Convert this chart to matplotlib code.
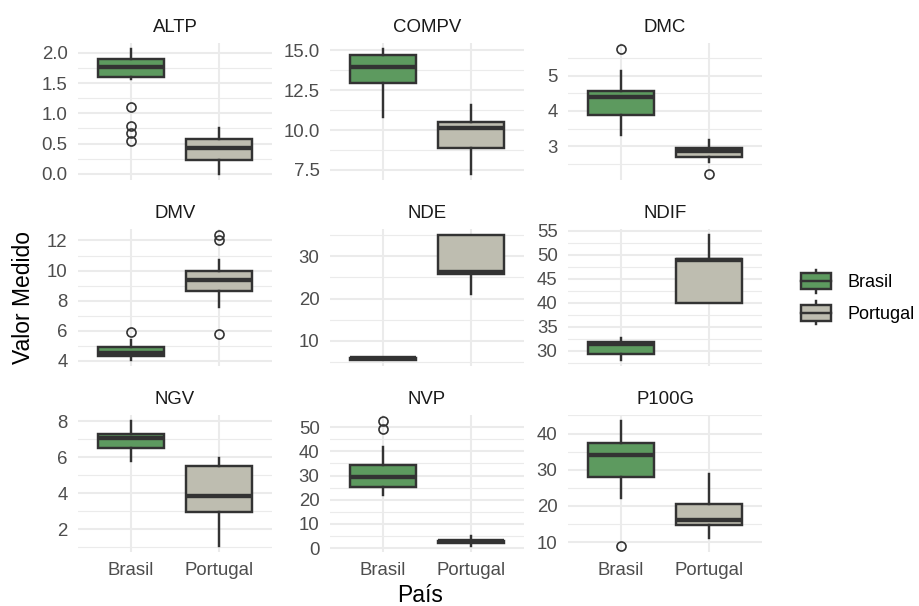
import numpy as np
import matplotlib
matplotlib.use('Agg')
from matplotlib import pyplot as plt
from matplotlib.patches import Patch, Rectangle
from matplotlib.lines import Line2D
from matplotlib.legend_handler import HandlerBase

plt.rcParams['font.family'] = ['Liberation Sans', 'DejaVu Sans']

# dados (estatisticas dos boxplots)
variaveis = ['ALTP', 'COMPV', 'DMC', 'DMV', 'NDE', 'NDIF', 'NGV', 'NVP', 'P100G']
paises = ['Brasil', 'Portugal']

brasil_whislo = [1.57, 10.83, 3.32, 4.07, 5.5, 28.1, 5.81, 22.0, 22.2]
brasil_q1 = [1.60, 12.94, 3.88, 4.33, 5.5, 29.4, 6.51, 25.3, 28.0]
brasil_med = [1.77, 13.99, 4.40, 4.55, 6.0, 31.3, 7.05, 29.4, 34.2]
brasil_q3 = [1.90, 14.71, 4.57, 4.91, 6.0, 31.9, 7.29, 34.4, 37.4]
brasil_whishi = [2.06, 15.08, 5.14, 5.40, 6.0, 32.7, 8.00, 41.9, 43.4]
brasil_fliers = [[1.11, 0.79, 0.68, 0.54], [], [5.75], [5.89], [], [], [], [52.4, 49.3], [9.0]]

portugal_whislo = [0.0, 7.25, 2.54, 7.60, 21.0, 40.0, 1.07, 1.0, 11.1]
portugal_q1 = [0.22, 8.85, 2.70, 8.62, 25.8, 40.0, 2.93, 2.0, 14.6]
portugal_med = [0.42, 10.15, 2.86, 9.35, 26.2, 48.9, 3.85, 3.0, 16.2]
portugal_q3 = [0.58, 10.51, 2.94, 10.0, 35.0, 49.2, 5.49, 3.0, 20.6]
portugal_whishi = [0.75, 11.57, 3.17, 10.67, 35.0, 54.1, 5.95, 5.0, 28.8]
portugal_fliers = [[], [], [2.22], [12.35, 12.0, 5.78], [], [], [], [], []]

y_breaks = [
    [0, 0.5, 1, 1.5, 2],
    [7.5, 10, 12.5, 15],
    [3, 4, 5],
    [4, 6, 8, 10, 12],
    [10, 20, 30],
    [30, 35, 40, 45, 50, 55],
    [2, 4, 6, 8],
    [0, 10, 20, 30, 40, 50],
    [10, 20, 30, 40],
]

cores = ['#5D9A5F', '#BEBDB0']
EDGE = '#333333'
GRID = '#EBEBEB'
LW = 1.75

W, H = 919, 606
col_left = [78, 330, 568]
row_top = [43, 229, 415]
pw, ph = 194, 137


class HandlerBox(HandlerBase):
    def create_artists(self, legend, orig_handle, xdescent, ydescent,
                       width, height, fontsize, trans):
        x0, y0 = -xdescent, -ydescent
        fc = orig_handle.get_facecolor()
        box = Rectangle((x0, y0 + 0.16 * height), width, 0.68 * height,
                        facecolor=fc, edgecolor=EDGE, lw=LW, transform=trans)
        med = Line2D([x0, x0 + width], [y0 + 0.5 * height] * 2,
                     color=EDGE, lw=LW, transform=trans)
        w1 = Line2D([x0 + width / 2] * 2, [y0, y0 + 0.16 * height],
                    color=EDGE, lw=LW, transform=trans)
        w2 = Line2D([x0 + width / 2] * 2, [y0 + 0.84 * height, y0 + height],
                    color=EDGE, lw=LW, transform=trans)
        return [w1, w2, box, med]


def fmt_ticks(ticks):
    d = 1 if any(t != int(t) for t in ticks) else 0
    return [f"{t:.{d}f}" for t in ticks]


def get_stats(i):
    b = dict(whislo=brasil_whislo[i], q1=brasil_q1[i], med=brasil_med[i],
             q3=brasil_q3[i], whishi=brasil_whishi[i], fliers=brasil_fliers[i])
    p = dict(whislo=portugal_whislo[i], q1=portugal_q1[i], med=portugal_med[i],
             q3=portugal_q3[i], whishi=portugal_whishi[i], fliers=portugal_fliers[i])
    return [b, p]


def main():
    fig = plt.figure(figsize=(W / 100, H / 100), dpi=100)

    for i, var in enumerate(variaveis):
        r, c = divmod(i, 3)
        ax = fig.add_axes([col_left[c] / W, 1 - (row_top[r] + ph) / H, pw / W, ph / H])
        stats = get_stats(i)
        res = ax.bxp(stats, positions=[1, 2], widths=0.75, patch_artist=True,
                     showcaps=False,
                     boxprops=dict(edgecolor=EDGE, linewidth=LW),
                     medianprops=dict(color=EDGE, linewidth=LW * 1.8, solid_capstyle='butt'),
                     whiskerprops=dict(color=EDGE, linewidth=LW),
                     flierprops=dict(marker='o', markerfacecolor='none', markeredgecolor=EDGE,
                                     markersize=6.5, markeredgewidth=1.2))
        for patch, cor in zip(res['boxes'], cores):
            patch.set_facecolor(cor)

        vals = []
        for s in stats:
            vals += [s['whislo'], s['whishi']] + list(s['fliers'])
        lo, hi = min(vals), max(vals)
        pad = 0.05 * (hi - lo)
        ax.set_ylim(lo - pad, hi + pad)
        ax.set_xlim(0.4, 2.6)

        ticks = y_breaks[i]
        step = ticks[1] - ticks[0]
        minor = [t - step / 2 for t in ticks] + [ticks[-1] + step / 2]
        minor = [m for m in minor if lo - pad <= m <= hi + pad]
        ax.set_yticks(ticks)
        ax.set_yticklabels(fmt_ticks(ticks))
        ax.set_yticks(minor, minor=True)
        ax.set_xticks([1, 2])
        if r == 2:
            ax.set_xticklabels(paises)
        else:
            ax.set_xticklabels([])

        ax.set_axisbelow(True)
        ax.grid(which='major', color=GRID, linewidth=1.5)
        ax.grid(which='minor', axis='y', color=GRID, linewidth=0.8)
        for s in ax.spines.values():
            s.set_visible(False)
        ax.tick_params(axis='both', which='both', length=0, labelsize=13.4, colors='#4D4D4D')
        ax.tick_params(axis='y', pad=7.5)
        ax.tick_params(axis='x', pad=7.5)
        ax.set_title(var, fontsize=13.4, color='#1A1A1A', pad=8)

    handles = [Patch(facecolor=cores[k], label=paises[k]) for k in range(2)]
    fig.legend(handles=handles, handler_map={Patch: HandlerBox()},
               loc='center left', bbox_to_anchor=(801 / W, 1 - 297 / H),
               frameon=False, fontsize=13, handlelength=1.65, handleheight=1.6,
               labelspacing=0.45, handletextpad=0.95, borderpad=0, borderaxespad=0)

    fig.text(23.5 / W, 1 - 297.5 / H, 'Valor Medido', rotation=90,
             ha='center', va='center', fontsize=16.5)
    fig.text(420 / W, 1 - 602.5 / H, 'País', ha='center', va='baseline', fontsize=16.5)

    fig.savefig('out.png', dpi=100)


if __name__ == '__main__':
    main()
